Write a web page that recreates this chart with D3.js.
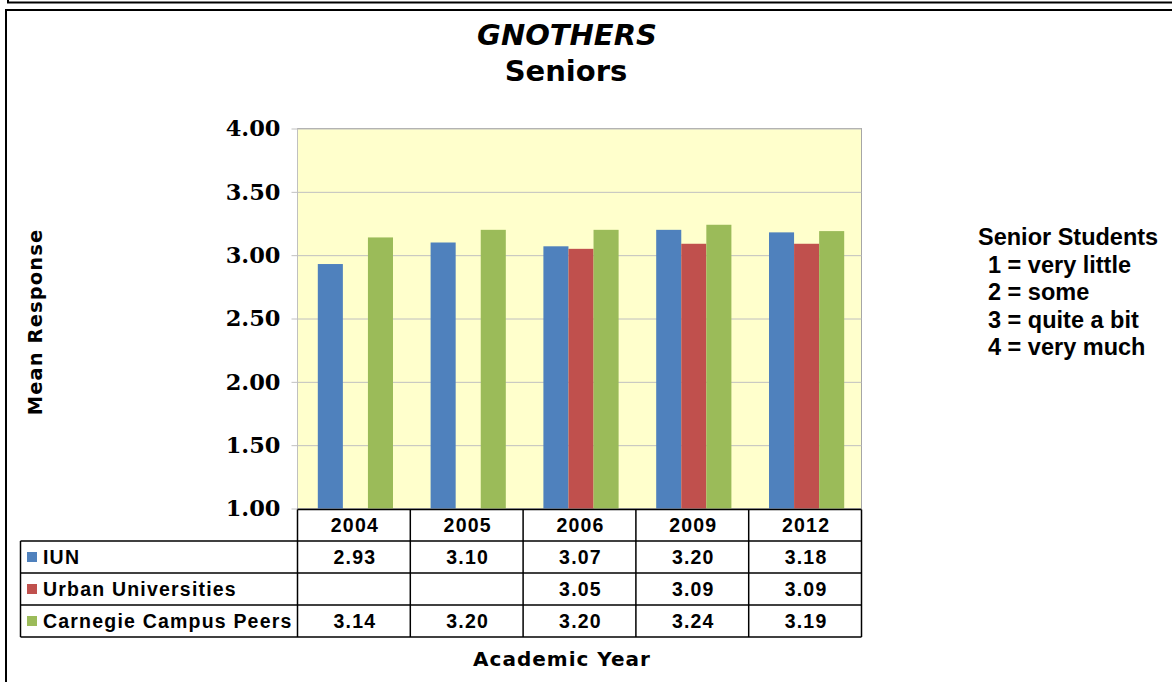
<!DOCTYPE html>
<html>
<head>
<meta charset="utf-8">
<script src="https://cdn.jsdelivr.net/npm/d3@7"></script>
<style>
  body { margin: 0; background: #fff; }
  svg { display: block; }
</style>
</head>
<body>
<div id="chart"></div>
<script>
// Chart data
const years = ['2004', '2005', '2006', '2009', '2012'];
const seriesNames = ['IUN', 'Urban Universities', 'Carnegie Campus Peers'];
const iunValues = [2.93, 3.10, 3.07, 3.20, 3.18];
const urbanValues = [null, null, 3.05, 3.09, 3.09];
const carnegieValues = [3.14, 3.20, 3.20, 3.24, 3.19];
const seriesColors = ['#4F81BD', '#C0504D', '#9BBB59'];
const yTicks = [1.00, 1.50, 2.00, 2.50, 3.00, 3.50, 4.00];
const scaleNotes = ['Senior Students', '1 = very little', '2 = some', '3 = quite a bit', '4 = very much'];

const seriesValues = [iunValues, urbanValues, carnegieValues];

const width = 1172;
const height = 682;
const plot = { left: 297.5, right: 861.5, top: 128.5, bottom: 508.5 };

const svg = d3.select('#chart')
    .append('svg')
    .attr('width', width)
    .attr('height', height);

// Outer frames
svg.append('path')
    .attr('d', `M8,0 V2.5 H${width}`)
    .attr('fill', 'none')
    .attr('stroke', '#000')
    .attr('stroke-width', 2);
svg.append('rect')
    .attr('x', 6).attr('y', 10)
    .attr('width', width + 10).attr('height', height + 10)
    .attr('fill', 'none')
    .attr('stroke', '#000')
    .attr('stroke-width', 2);

// Scales
const x0 = d3.scaleBand()
    .domain(years)
    .range([plot.left, plot.right])
    .padding(0);

const x1 = d3.scaleBand()
    .domain(seriesNames)
    .range([1.5, x0.bandwidth() + 1.5])
    .paddingInner(0)
    .paddingOuter(0.75);

const y = d3.scaleLinear()
    .domain([1, 4])
    .range([plot.bottom, plot.top]);

// Plot background
svg.append('rect')
    .attr('x', plot.left)
    .attr('y', plot.top)
    .attr('width', plot.right - plot.left)
    .attr('height', plot.bottom - plot.top)
    .attr('fill', '#FFFFCC')
    .attr('stroke', '#A6A6A6')
    .attr('stroke-width', 1);

// Gridlines + axis
const yAxis = d3.axisLeft(y)
    .tickValues(yTicks)
    .tickSize(-(plot.right - plot.left))
    .tickPadding(17)
    .tickFormat(d3.format('.2f'));

const yAxisG = svg.append('g')
    .attr('transform', `translate(${plot.left},0)`)
    .call(yAxis);
yAxisG.select('.domain').remove();
yAxisG.selectAll('.tick line')
    .attr('stroke', '#C0C0C0')
    .attr('x1', -6);
yAxisG.selectAll('.tick text')
    .attr('fill', '#000')
    .style('font-family', '"DejaVu Serif", serif')
    .style('font-weight', 'bold')
    .style('font-size', '22.5px');

svg.append('line')
    .attr('x1', plot.left).attr('x2', plot.left)
    .attr('y1', plot.top).attr('y2', plot.bottom)
    .attr('stroke', '#C0C0C0');

// Bars
const barData = [];
years.forEach((yr, i) => {
    seriesNames.forEach((s, j) => {
        const v = seriesValues[j][i];
        if (v != null) barData.push({ year: yr, series: s, value: v, color: seriesColors[j] });
    });
});

svg.selectAll('.bar')
    .data(barData)
    .enter()
    .append('rect')
    .attr('class', 'bar')
    .attr('x', d => x0(d.year) + x1(d.series))
    .attr('y', d => y(d.value))
    .attr('width', x1.bandwidth())
    .attr('height', d => y(1) - y(d.value))
    .attr('fill', d => d.color);

// Data table
const table = { left: 20.5, headTop: 509.5, rowTop: 541, rowH: 32 };
const colEdges = [plot.left].concat(years.map(yr => x0(yr) + x0.bandwidth()));
const tableBottom = table.rowTop + table.rowH * seriesNames.length;
const tg = svg.append('g')
    .attr('stroke', '#000')
    .attr('stroke-width', 1.5);

// header top line and column lines
tg.append('line')
    .attr('x1', plot.left).attr('x2', plot.right)
    .attr('y1', table.headTop).attr('y2', table.headTop);
colEdges.forEach(cx => {
    tg.append('line')
        .attr('x1', cx).attr('x2', cx)
        .attr('y1', table.headTop).attr('y2', tableBottom);
});
tg.append('line')
    .attr('x1', table.left).attr('x2', table.left)
    .attr('y1', table.rowTop).attr('y2', tableBottom);
d3.range(seriesNames.length + 1).forEach(i => {
    const ry = table.rowTop + i * table.rowH;
    tg.append('line')
        .attr('x1', table.left).attr('x2', plot.right)
        .attr('y1', ry).attr('y2', ry);
});

const tableFont = sel => sel
    .style('font-family', '"Liberation Sans", Arial, sans-serif')
    .style('font-weight', 'bold')
    .style('font-size', '19.5px')
    .style('letter-spacing', '1.2px')
    .attr('fill', '#000');

// year headers
svg.selectAll('.year-label')
    .data(years)
    .enter()
    .append('text')
    .attr('class', 'year-label')
    .attr('x', d => x0(d) + x0.bandwidth() / 2 + 1)
    .attr('y', (table.headTop + table.rowTop) / 2)
    .attr('dy', '0.36em')
    .attr('text-anchor', 'middle')
    .call(tableFont)
    .text(d => d);

// row labels with legend keys
seriesNames.forEach((s, j) => {
    const cy = table.rowTop + j * table.rowH + table.rowH / 2;
    svg.append('rect')
        .attr('x', 27).attr('y', cy - 5)
        .attr('width', 10).attr('height', 10)
        .attr('fill', seriesColors[j]);
    svg.append('text')
        .attr('x', 43)
        .attr('y', cy)
        .attr('dy', '0.36em')
        .call(tableFont)
        .text(s);
    years.forEach((yr, i) => {
        const v = seriesValues[j][i];
        if (v == null) return;
        svg.append('text')
            .attr('x', x0(yr) + x0.bandwidth() / 2 + 1)
            .attr('y', cy)
            .attr('dy', '0.36em')
            .attr('text-anchor', 'middle')
            .call(tableFont)
            .text(v.toFixed(2));
    });
});

// Titles
svg.append('text')
    .attr('x', 567).attr('y', 45)
    .attr('text-anchor', 'middle')
    .style('font-family', '"DejaVu Sans", Verdana, sans-serif')
    .style('font-weight', 'bold')
    .style('font-style', 'italic')
    .style('font-size', '29px')
    .text('GNOTHERS');
svg.append('text')
    .attr('x', 566).attr('y', 81)
    .attr('text-anchor', 'middle')
    .style('font-family', '"DejaVu Sans", Verdana, sans-serif')
    .style('font-weight', 'bold')
    .style('font-size', '29px')
    .text('Seniors');

// Axis titles
svg.append('text')
    .attr('transform', 'translate(42,322) rotate(-90)')
    .attr('text-anchor', 'middle')
    .style('font-family', '"DejaVu Sans", Verdana, sans-serif')
    .style('font-weight', 'bold')
    .style('font-size', '19.5px')
    .style('letter-spacing', '1.1px')
    .text('Mean Response');
svg.append('text')
    .attr('x', 562).attr('y', 666)
    .attr('text-anchor', 'middle')
    .style('font-family', '"DejaVu Sans", Verdana, sans-serif')
    .style('font-weight', 'bold')
    .style('font-size', '20px')
    .style('letter-spacing', '1px')
    .text('Academic Year');

// Scale notes
svg.selectAll('.note')
    .data(scaleNotes)
    .enter()
    .append('text')
    .attr('class', 'note')
    .attr('x', (d, i) => i === 0 ? 978 : 988)
    .attr('y', (d, i) => 245 + i * 27.5)
    .style('font-family', '"Liberation Sans", Arial, sans-serif')
    .style('font-weight', 'bold')
    .style('font-size', '23.5px')
    .text(d => d);
</script>
</body>
</html>
